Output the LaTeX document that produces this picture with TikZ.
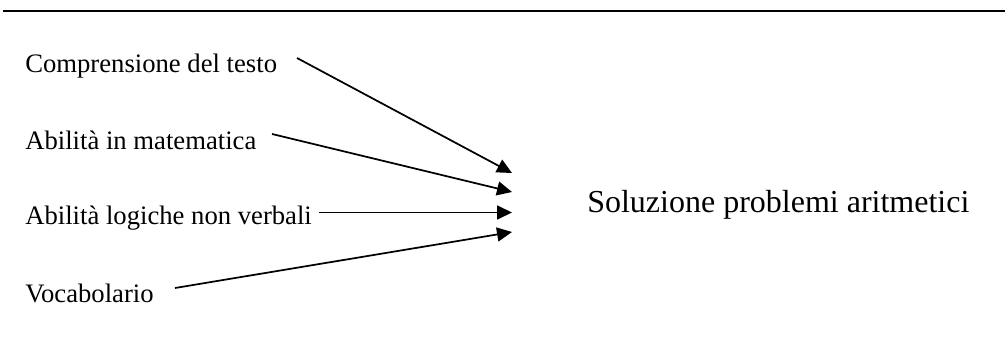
\documentclass[tikz,border=0pt]{standalone}
\usepackage{fontspec}
\setmainfont{Liberation Serif}
\usetikzlibrary{arrows.meta}
\begin{document}
\begin{tikzpicture}[x=0.75pt, y=-0.75pt,
  factor/.style={anchor=base west, inner sep=0pt, font=\fontsize{20}{24}\selectfont},
  outcome/.style={anchor=base west, inner sep=0pt, font=\fontsize{24}{29}\selectfont},
  link/.style={line width=1.3pt, -{Triangle[length=11.25pt, width=10.5pt]}}]
  \useasboundingbox (0,0) rectangle (1005,342);
  % rule across the top
  \draw[line width=1.6pt] (3,11) -- (1005,11);
  % factors
  \node[factor] (c1) at (25,73) {Comprensione del testo};
  \node[factor] (c2) at (25,150) {Abilità in matematica};
  \node[factor] (c3) at (25,224) {Abilità logiche non verbali};
  \node[factor] (c4) at (25,302) {Vocabolario};
  % outcome
  \node[outcome] (out) at (587,212) {Soluzione problemi aritmetici};
  % connector ends
  \coordinate (s1) at (297,58);
  \coordinate (s2) at (272,134);
  \coordinate (s3) at (319,212.5);
  \coordinate (s4) at (175,288);
  \coordinate (t1) at (512,173);
  \coordinate (t2) at (512,192);
  \coordinate (t3) at (512,212.5);
  \coordinate (t4) at (512,232);
  \draw[link] (s1) -- (t1);
  \draw[link] (s2) -- (t2);
  \draw[link] (s3) -- (t3);
  \draw[link] (s4) -- (t4);
\end{tikzpicture}
\end{document}
